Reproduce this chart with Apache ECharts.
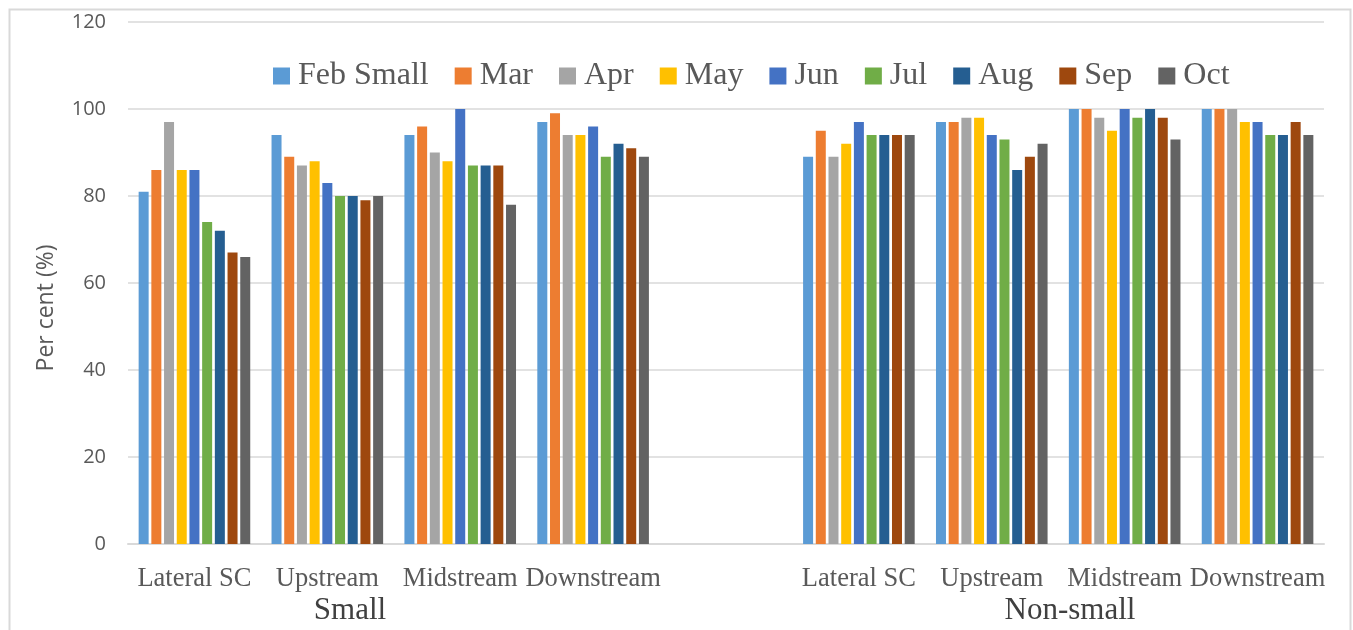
<!DOCTYPE html>
<html>
<head>
<meta charset="utf-8">
<script src="https://cdn.jsdelivr.net/npm/echarts@6/dist/echarts.min.js"></script>
<style>
html,body{margin:0;padding:0;background:#fff;}
#chart{width:1353px;height:630px;}
</style>
</head>
<body>
<div id="chart"></div>
<script>
var categories = ['Lateral SC','Upstream','Midstream','Downstream','','Lateral SC','Upstream','Midstream','Downstream'];
var groupLabels = ['Small','Non-small'];
var seriesNames = ['Feb Small','Mar','Apr','May','Jun','Jul','Aug','Sep','Oct'];
var yTicks = [0,20,40,60,80,100,120];
var yAxisTitle = 'Per cent (%)';

var febSmall = [81, 94, 94, 97, '-', 89, 97, 100, 100];
var mar      = [86, 89, 96, 99, '-', 95, 97, 100, 100];
var apr      = [97, 87, 90, 94, '-', 89, 98, 98, 100];
var may      = [86, 88, 88, 94, '-', 92, 98, 95, 97];
var jun      = [86, 83, 100, 96, '-', 97, 94, 100, 97];
var jul      = [74, 80, 87, 89, '-', 94, 93, 98, 94];
var aug      = [72, 80, 87, 92, '-', 94, 86, 100, 94];
var sep      = [67, 79, 87, 91, '-', 94, 89, 98, 97];
var oct      = [66, 80, 78, 89, '-', 94, 92, 93, 94];

var seriesValues = [febSmall, mar, apr, may, jun, jul, aug, sep, oct];
var colors = ['#5B9BD5','#ED7D31','#A5A5A5','#FFC000','#4472C4','#70AD47','#255E91','#9E480E','#636363'];

var chart = echarts.init(document.getElementById('chart'), null, {renderer:'canvas'});

var series = seriesNames.map(function(name, i){
  return {
    name: name,
    type: 'bar',
    data: seriesValues[i],
    barWidth: 10,
    barGap: '27%',
    itemStyle: { color: colors[i] },
    emphasis: { disabled: true },
    animation: false
  };
});

var option = {
  animation: false,
  color: colors,
  grid: { left: 128, right: 29, top: 22, bottom: 86, containLabel: false },
  legend: {
    data: seriesNames,
    top: 55,
    left: 268,
    icon: 'rect',
    itemWidth: 17,
    itemHeight: 17,
    itemGap: 26,
    textStyle: {
      fontFamily: 'Liberation Serif',
      fontSize: 32,
      color: '#595959',
      padding: [0,0,0,3]
    }
  },
  xAxis: {
    type: 'category',
    data: categories,
    axisTick: { show: false },
    axisLine: { show: true, lineStyle: { color: '#D9D9D9', width: 2 } },
    axisLabel: {
      interval: 0,
      margin: 22,
      fontFamily: 'Liberation Serif',
      fontSize: 26.5,
      color: '#595959'
    }
  },
  yAxis: {
    type: 'value',
    min: yTicks[0],
    max: yTicks[yTicks.length-1],
    interval: yTicks[1]-yTicks[0],
    axisLine: { show: false },
    axisTick: { show: false },
    axisLabel: {
      margin: 22,
      fontFamily: 'Open Sans',
      fontSize: 20,
      color: '#595959'
    },
    splitLine: { lineStyle: { color: '#D9D9D9', width: 1.5 } }
  },
  graphic: [
    {
      type: 'rect',
      left: 7, top: 7,
      shape: { width: 1341, height: 640 },
      style: { fill: 'none', stroke: '#D9D9D9', lineWidth: 2 },
      silent: true
    },
    {
      type: 'text',
      x: 46, y: 308,
      rotation: Math.PI/2,
      style: {
        text: yAxisTitle,
        fontFamily: 'Open Sans',
        fontSize: 23,
        fill: '#595959',
        align: 'center',
        verticalAlign: 'middle'
      },
      silent: true
    },
    {
      type: 'text',
      x: 350, y: 611,
      style: {
        text: groupLabels[0],
        fontFamily: 'Liberation Serif',
        fontSize: 31,
        fill: '#404040',
        align: 'center',
        verticalAlign: 'middle'
      },
      silent: true
    },
    {
      type: 'text',
      x: 1070, y: 611,
      style: {
        text: groupLabels[1],
        fontFamily: 'Liberation Serif',
        fontSize: 31,
        fill: '#404040',
        align: 'center',
        verticalAlign: 'middle'
      },
      silent: true
    }
  ],
  series: series
};

chart.setOption(option);
</script>
</body>
</html>
